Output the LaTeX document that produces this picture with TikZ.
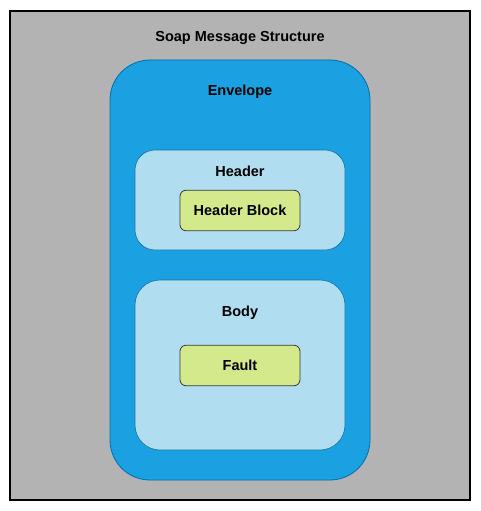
\documentclass[tikz,border=0pt]{standalone}
\usepackage{fontspec}
\setmainfont{Liberation Sans}
\usepackage{xcolor}
\usetikzlibrary{positioning}
\definecolor{soapgray}{HTML}{B3B3B3}
\definecolor{envelopefill}{HTML}{1BA1E2}
\definecolor{envelopeline}{HTML}{006EAF}
\definecolor{partfill}{HTML}{B1DDF0}
\definecolor{partline}{HTML}{10739E}
\definecolor{blockfill}{HTML}{D3E98C}
\definecolor{blockline}{HTML}{36393D}
\tikzset{
  label_text/.style={font=\fontsize{14.5}{17}\selectfont\bfseries, text=black, inner sep=0pt},
  frame_box/.style={draw=black, fill=soapgray, line width=1.2pt, inner sep=0pt},
  envelope_box/.style={draw=envelopeline, fill=envelopefill, line width=0.8pt, rounded corners=40pt, inner sep=0pt},
  part_box/.style={draw=partline, fill=partfill, line width=0.6pt, inner sep=0pt},
  block_box/.style={label_text, draw=blockline, fill=blockfill, line width=0.8pt, rounded corners=6pt}
}
\begin{document}
\begin{tikzpicture}[x=1pt, y=-1pt]
\useasboundingbox (0,0) rectangle (481,511);
\node[frame_box, minimum width=460pt, minimum height=489pt] (frame_node) at (240,255.5) {};
\node[label_text] (title_node) at (240,37.5) {Soap Message Structure};
% envelope and its parts
\node[envelope_box, minimum width=260pt, minimum height=420pt] (envelope_node) at (240,270) {};
\node[label_text] (envelope_label) at (240,91.5) {Envelope};
\node[part_box, rounded corners=20pt, minimum width=210pt, minimum height=100pt] (header_node) at (240,200) {};
\node[label_text] (header_label) at (240,171.5) {Header};
\node[block_box, minimum width=120pt, minimum height=40.5pt] (header_block_node) at (240,210.5) {\raisebox{-1pt}{Header Block}};
\node[part_box, rounded corners=25pt, minimum width=210pt, minimum height=170pt] (body_node) at (240,365) {};
\node[label_text] (body_label) at (240,312.5) {Body};
\node[block_box, minimum width=120pt, minimum height=40.5pt] (fault_node) at (240,365.5) {\raisebox{-1pt}{Fault}};
\end{tikzpicture}
\end{document}
